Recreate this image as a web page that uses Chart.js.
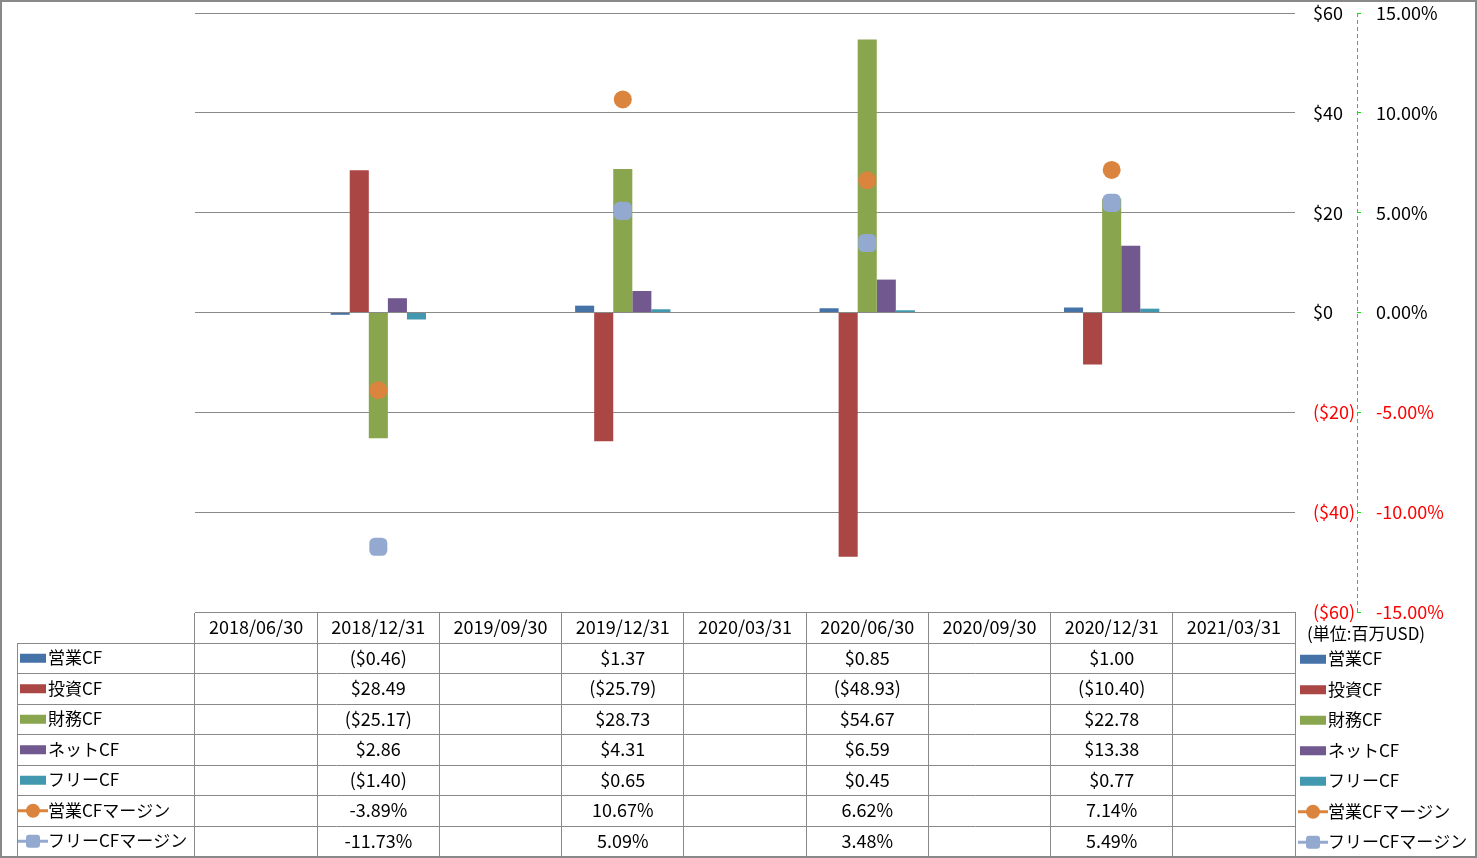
<!DOCTYPE html>
<html>
<head>
<meta charset="utf-8">
<script src="https://cdn.jsdelivr.net/npm/chart.js@4.4.1/dist/chart.umd.min.js"></script>
<style>
body{margin:0;background:#fff;}
#wrap{width:1477px;height:858px;position:relative;}
</style>
</head>
<body>
<div id="wrap"><canvas id="cf"></canvas></div>
<script>
let dates = ['2018/06/30','2018/12/31','2019/09/30','2019/12/31','2020/03/31','2020/06/30','2020/09/30','2020/12/31','2021/03/31'];
let eigyoCF = [null,-0.46,null,1.37,null,0.85,null,1.00,null];
let toshiCF = [null,28.49,null,-25.79,null,-48.93,null,-10.40,null];
let zaimuCF = [null,-25.17,null,28.73,null,54.67,null,22.78,null];
let netCF = [null,2.86,null,4.31,null,6.59,null,13.38,null];
let freeCF = [null,-1.40,null,0.65,null,0.45,null,0.77,null];
let eigyoMargin = [null,-3.89,null,10.67,null,6.62,null,7.14,null];
let freeMargin = [null,-11.73,null,5.09,null,3.48,null,5.49,null];
let unitLabel = '(単位:百万USD)';

let gridColor = '#898989';
let green = '#11dd11';
let font = '"Noto Sans CJK JP", "Noto Sans", sans-serif';

let series = [
  {label:'営業CF', data:eigyoCF, color:'#4572A7', kind:'bar'},
  {label:'投資CF', data:toshiCF, color:'#AA4643', kind:'bar'},
  {label:'財務CF', data:zaimuCF, color:'#89A54E', kind:'bar'},
  {label:'ネットCF', data:netCF, color:'#71588F', kind:'bar'},
  {label:'フリーCF', data:freeCF, color:'#4198AF', kind:'bar'},
  {label:'営業CFマージン', data:eigyoMargin, color:'#DB843D', kind:'circle'},
  {label:'フリーCFマージン', data:freeMargin, color:'#93A9CF', kind:'square'}
];

function money(v){
  if (v === null) return '';
  return v < 0 ? '($' + Math.abs(v).toFixed(2) + ')' : '$' + v.toFixed(2);
}
function pct(v){
  if (v === null) return '';
  return v.toFixed(2) + '%';
}

function drawKey(ctx, s, x, y){
  if (s.kind === 'bar'){
    ctx.fillStyle = s.color;
    ctx.fillRect(x, y - 4, 26, 9);
    return;
  }
  ctx.strokeStyle = s.color;
  ctx.lineWidth = 3;
  ctx.beginPath(); ctx.moveTo(x - 2, y + 0.5); ctx.lineTo(x + 28, y + 0.5); ctx.stroke();
  ctx.fillStyle = s.color;
  if (s.kind === 'circle'){
    ctx.beginPath(); ctx.arc(x + 13, y + 0.5, 7, 0, Math.PI * 2); ctx.fill();
  } else {
    ctx.beginPath(); ctx.roundRect(x + 6, y - 6, 14, 13, 3); ctx.fill();
  }
}

// no label overflow padding on the value axes, so the plot starts where the reference does
function fixWidth(w){
  return function(scale){
    scale.width = w;
    scale.paddingTop = 0;
    scale.paddingBottom = 0;
  };
}

let tablePlugin = {
  id:'table',
  afterDraw(chart){
    let ctx = chart.ctx, x = chart.scales.x, y1 = chart.scales.y1, area = chart.chartArea;
    let top = area.bottom, rowH = 30.5;
    ctx.save();
    // dashed secondary axis line
    ctx.strokeStyle = green;
    ctx.lineWidth = 1;
    ctx.setLineDash([4, 3]);
    ctx.beginPath(); ctx.moveTo(Math.round(y1.left) + 0.5, y1.top); ctx.lineTo(Math.round(y1.left) + 0.5, y1.bottom); ctx.stroke();
    ctx.setLineDash([]);

    ctx.strokeStyle = gridColor;
    for (let r = 1; r <= 8; r++){
      let yy = Math.round(top + rowH * r) + 0.5;
      ctx.beginPath(); ctx.moveTo(17, yy); ctx.lineTo(area.right, yy); ctx.stroke();
    }
    ctx.beginPath(); ctx.moveTo(17.5, Math.round(top + rowH) + 0.5); ctx.lineTo(17.5, Math.round(top + rowH * 8) + 0.5); ctx.stroke();

    ctx.textBaseline = 'middle';
    series.forEach(function(s, r){
      let cy = top + rowH * (r + 1.5);
      drawKey(ctx, s, 20, cy);
      ctx.fillStyle = '#000';
      ctx.font = '17px ' + font;
      ctx.textAlign = 'left';
      ctx.fillText(s.label, 48, cy);
      ctx.font = '18px ' + font;
      ctx.textAlign = 'center';
      s.data.forEach(function(v, i){
        if (v === null) return;
        let txt = s.kind === 'bar' ? money(v) : pct(v);
        ctx.fillText(txt, x.getPixelForValue(i), cy);
      });
      // right legend
      drawKey(ctx, s, 1300, cy + 1);
      ctx.fillStyle = '#000';
      ctx.font = '17px ' + font;
      ctx.textAlign = 'left';
      ctx.fillText(s.label, 1328, cy + 1);
    });
    ctx.font = '17px ' + font;
    ctx.textAlign = 'left';
    ctx.fillText(unitLabel, 1307, 634);

    ctx.strokeStyle = gridColor;
    ctx.strokeRect(0.5, 0.5, 1476, 857);
    ctx.restore();
  }
};

Chart.defaults.font.family = font;
Chart.defaults.font.size = 18;
Chart.defaults.color = '#000';

let datasets = series.map(function(s){
  if (s.kind === 'bar'){
    return {type:'bar', label:s.label, data:s.data, backgroundColor:s.color, yAxisID:'y',
      categoryPercentage:0.78, barPercentage:1};
  }
  return {type:'line', label:s.label, data:s.data, yAxisID:'y1', showLine:false, order:-1,
    pointStyle: s.kind === 'circle' ? 'circle' : 'rectRounded',
    pointRadius: s.kind === 'circle' ? 9 : 10.5,
    backgroundColor:s.color, borderColor:s.color, borderWidth:0};
});

new Chart(document.getElementById('cf'), {
  data:{labels:dates, datasets:datasets},
  options:{
    responsive:true,
    maintainAspectRatio:false,
    animation:false,
    layout:{padding:{left:195, top:13, right:0, bottom:0}},
    plugins:{legend:{display:false}, tooltip:{enabled:false}},
    scales:{
      x:{
        position:'bottom',
        grid:{display:true, drawOnChartArea:false, offset:true, tickLength:244, color:gridColor},
        border:{display:true, color:gridColor},
        ticks:{padding:-240, maxRotation:0, autoSkip:false},
        afterFit(scale){ scale.height = 246; }
      },
      y:{
        position:'right',
        weight:0,
        min:-60, max:60,
        grid:{color:gridColor, drawTicks:false},
        border:{display:false},
        ticks:{stepSize:20, padding:18, crossAlign:'near',
          color:function(c){ return c.tick.value < 0 ? '#ff0000' : '#000'; },
          callback:function(v){ return v < 0 ? '($' + Math.abs(v) + ')' : '$' + v; }},
        afterFit:fixWidth(62)
      },
      y1:{
        position:'right',
        weight:1,
        min:-15, max:15,
        grid:{drawOnChartArea:false, drawTicks:true, tickLength:4, color:green},
        border:{display:false},
        ticks:{stepSize:5, padding:15, crossAlign:'near',
          color:function(c){ return c.tick.value < 0 ? '#ff0000' : '#000'; },
          callback:function(v){ return v.toFixed(2) + '%'; }},
        afterFit:fixWidth(120)
      }
    }
  },
  plugins:[tablePlugin]
});
</script>
</body>
</html>
